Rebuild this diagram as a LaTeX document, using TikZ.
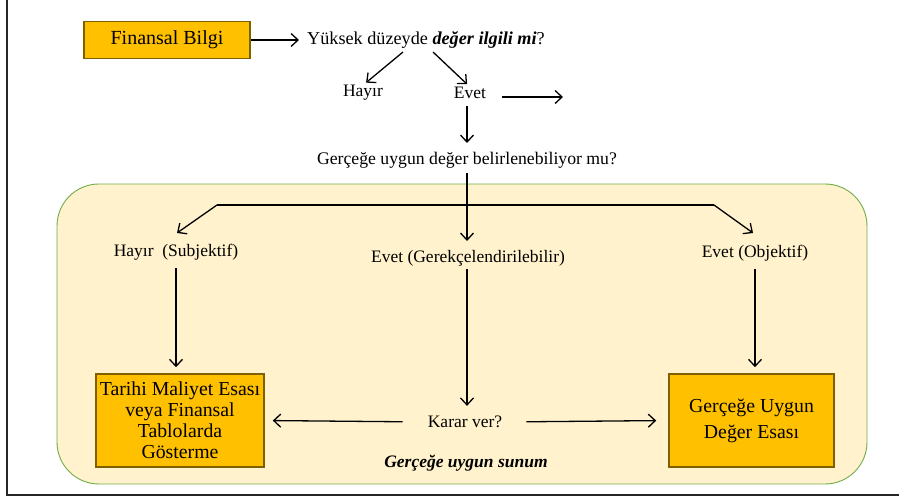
\documentclass[tikz,border=0pt]{standalone}
\usepackage{fontspec}
\setmainfont{Liberation Serif}
\usetikzlibrary{arrows.meta}
\definecolor{boxfill}{HTML}{FFC000}
\definecolor{boxline}{HTML}{7F6000}
\definecolor{panelfill}{HTML}{FFF2CC}
\definecolor{panelline}{HTML}{70AD47}

\begin{document}
\begin{tikzpicture}[x=1bp,y=-1bp,
  flow/.style={-{Straight Barb[length=7bp,width=13bp]}, line width=1.3bp},
  plain/.style={line width=1.3bp},
  goldbox/.style={draw=boxline, line width=1.5bp, fill=boxfill, inner sep=0pt,
    align=center, font=\fontsize{19.8bp}{21bp}\selectfont},
  lbl/.style={inner sep=0pt, font=\fontsize{17.5bp}{21bp}\selectfont},
]
\useasboundingbox (0,0) rectangle (899,497);

% outer frame (left and bottom edges)
\draw[line width=1.6bp, black!85] (7,0) -- (7,495) -- (899,495);

% shaded panel for the fair value presentation
\draw[panelline, fill=panelfill, line width=0.9bp, rounded corners=42bp]
  (57,184) rectangle (867,484);

% top part
\node[goldbox, minimum width=166bp, minimum height=37bp, font=\fontsize{20bp}{21bp}\selectfont]
  (fin) at (167,40) {Finansal Bilgi};
\node[lbl, anchor=west, font=\fontsize{18.2bp}{21bp}\selectfont] (q1) at (307,40)
  {Yüksek düzeyde \textbf{\textit{değer ilgili mi}}?};
\draw[flow, shorten >=8bp] (fin.east) -- (q1.west);

\node[lbl] (no1) at (363,93) {Hayır};
\node[lbl] (yes1) at (470,93) {Evet};
\coordinate (q1l) at (403,52);
\coordinate (q1r) at (433,52);
\draw[flow, shorten >=4bp] (q1l) -- (no1.north);
\draw[flow, shorten >=4bp] (q1r) -- (yes1.north);

\coordinate (yesfrom) at (502,97);
\coordinate (yesto) at (563,97);
\draw[flow] (yesfrom) -- (yesto);

\node[lbl, font=\fontsize{17.7bp}{21bp}\selectfont] (q2) at (467,160)
  {Gerçeğe uygun değer belirlenebiliyor mu?};
\coordinate (yesdown) at (467,106);
\draw[flow, shorten >=17bp] (yesdown) -- (q2.center);

% three-way branch
\coordinate (bl) at (217,205);
\coordinate (brr) at (714,205);
\coordinate (subtip) at (177,233);
\coordinate (objtip) at (753,233);
\coordinate (gertip) at (467,241);
\coordinate (q2foot) at (467,173);
\draw[plain] (bl) -- (brr);
\draw[flow] (bl) -- (subtip);
\draw[flow] (brr) -- (objtip);
\draw[flow] (q2foot) -- (gertip);

\node[lbl] (sub) at (176,252) {Hayır\ \ (Subjektif)};
\node[lbl] (ger) at (468,258) {Evet (Gerekçelendirilebilir)};
\node[lbl] (obj) at (755,253) {Evet (Objektif)};

% outcome boxes
\node[goldbox, minimum width=168bp, minimum height=93bp] (lbox) at (180,420.5)
  {Tarihi Maliyet Esası\\veya Finansal\\Tablolarda\\Gösterme};
\node[goldbox, minimum width=165bp, minimum height=93bp, font=\fontsize{19.8bp}{26bp}\selectfont]
  (rbox) at (751.5,420.5) {Gerçeğe Uygun\\Değer Esası};

\node[lbl] (karar) at (465,422) {Karar ver?};

\draw[flow, shorten <=8bp, shorten >=6bp] (sub.south) -- (sub.south |- lbox.north);
\draw[flow, shorten <=8bp, shorten >=6bp] (obj.south) -- (obj.south |- rbox.north);
\draw[flow, shorten <=3bp, shorten >=10bp] ([xshift=-1bp]ger.south) -- ([xshift=-1bp]ger.south |- karar.north);
\draw[flow, shorten <=25bp, shorten >=8bp] (karar.west) -- (lbox.east);
\draw[flow, shorten <=24bp, shorten >=12bp] (karar.east) -- (rbox.west);

\node[lbl, font=\fontsize{17.5bp}{21bp}\selectfont\bfseries\itshape] (sunum) at (466,463)
  {Gerçeğe uygun sunum};
\end{tikzpicture}
\end{document}
